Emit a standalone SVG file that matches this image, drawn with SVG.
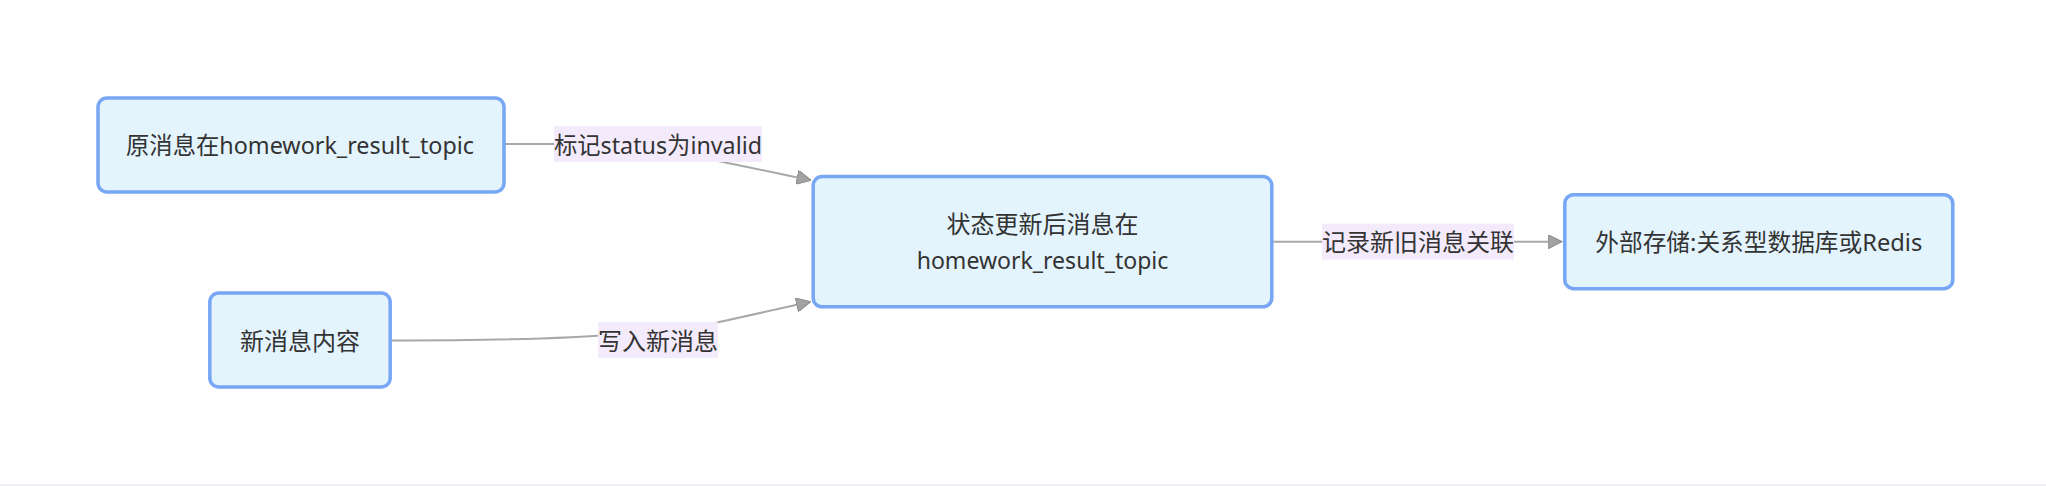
<svg xmlns="http://www.w3.org/2000/svg" width="2046" height="486" viewBox="0 0 2046 486">
  <style>
    .node rect { fill: #e3f4fd; stroke: #76a6f4; stroke-width: 3.5; }
    .lbl rect { fill: #f3ebfc; stroke: none; }
    text { font-family: "Noto Sans", "Noto Sans CJK SC", sans-serif; font-size: 24px; fill: #333333; text-anchor: middle; dominant-baseline: central; }
    .edge { fill: none; stroke: #a8a8a8; stroke-width: 2; }
  </style>
  <defs>
    <marker id="arrow" viewBox="0 0 10 10" refX="0" refY="5" markerWidth="15" markerHeight="14" markerUnits="userSpaceOnUse" orient="auto">
      <path d="M0,0 L10,5 L0,10 z" fill="#a3a3a3" stroke="#8c8c8c" stroke-width="0.8"/>
    </marker>
  </defs>
  <rect x="0" y="0" width="2046" height="486" fill="#ffffff"/>
  <rect x="0" y="484" width="2046" height="2" fill="#eef0f4"/>

  <g id="connectors">
    <path class="edge" d="M505,144 L590,144 C640,144 670,150 700,157.2 L797.3,177.4" marker-end="url(#arrow)"/>
    <path class="edge" d="M392,340.5 C480,340.5 560,339.5 620,334 C660,330 690,328.5 718.3,322.3 L796.9,304.8" marker-end="url(#arrow)"/>
    <path class="edge" d="M1273,241.7 L1548,241.7" marker-end="url(#arrow)"/>
  </g>

  <g id="edge-labels">
    <g class="lbl" id="label-mark">
      <rect x="554" y="126" width="208" height="36"/>
      <text x="658" y="144" textLength="208" lengthAdjust="spacingAndGlyphs">标记status为invalid</text>
    </g>
    <g class="lbl" id="label-write">
      <rect x="598" y="322" width="120" height="36"/>
      <text x="658" y="340">写入新消息</text>
    </g>
    <g class="lbl" id="label-record">
      <rect x="1322" y="223.7" width="192" height="36"/>
      <text x="1418" y="241.7">记录新旧消息关联</text>
    </g>
  </g>

  <g class="node" id="node-old">
    <rect x="98" y="98" width="406" height="94" rx="9" ry="9"/>
    <text x="300" y="144.5" textLength="348" lengthAdjust="spacingAndGlyphs">原消息在homework_result_topic</text>
  </g>
  <g class="node" id="node-new">
    <rect x="209.8" y="293" width="180.4" height="94" rx="9" ry="9"/>
    <text x="300" y="340">新消息内容</text>
  </g>
  <g class="node" id="node-updated">
    <rect x="813.2" y="176.5" width="458.6" height="130.3" rx="9" ry="9"/>
    <text x="1042.5" y="223.3">状态更新后消息在</text>
    <text x="1042.5" y="259.3" textLength="251.7" lengthAdjust="spacingAndGlyphs">homework_result_topic</text>
  </g>
  <g class="node" id="node-store">
    <rect x="1564.8" y="194.7" width="388" height="94" rx="9" ry="9"/>
    <text x="1758.8" y="241.7" textLength="327" lengthAdjust="spacingAndGlyphs">外部存储:关系型数据库或Redis</text>
  </g>
</svg>
